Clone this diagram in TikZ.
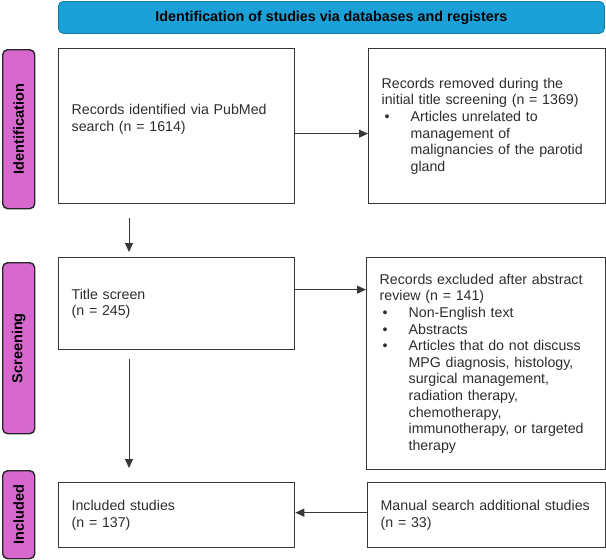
\documentclass[tikz,border=0pt]{standalone}
\usepackage{fontspec}
\setmainfont{Liberation Sans}
\usetikzlibrary{arrows.meta}

\definecolor{bannerblue}{RGB}{27,160,216}
\definecolor{phasepink}{RGB}{214,104,206}
\definecolor{linegray}{RGB}{55,55,55}
\definecolor{textgray}{RGB}{45,45,45}

\newcommand{\bul}{\makebox[29pt][l]{\hspace{3pt}•}}
\newcommand{\ind}{\hspace*{29pt}}

\begin{document}
\begin{tikzpicture}[
    x=1pt, y=-1pt,
    box/.style={draw=linegray, line width=1.3pt, text=textgray, align=left,
        inner xsep=13pt, inner ysep=0pt, anchor=north west,
        font=\fontsize{14.2}{16.6}\selectfont},
    phase/.style={draw=black!85, line width=1.4pt, fill=phasepink, rounded corners=5pt,
        anchor=north west, minimum width=32pt, inner sep=0pt,
        font=\fontsize{14.5}{16}\selectfont\bfseries},
    arr/.style={draw=linegray, line width=0.9pt, -{Triangle[length=9pt,width=8pt]}}
]
    \useasboundingbox (0,0) rectangle (606,560);
    % Banner on top
    \node[draw=bannerblue!75!black, line width=0.8pt, fill=bannerblue, rounded corners=5pt,
        anchor=north west, minimum width=546pt, minimum height=32pt,
        font=\fontsize{14.3}{16}\selectfont\bfseries] (head) at (58,1)
        {Identification of studies via databases and registers};
    % Phase labels on the left
    \foreach \name/\y/\h in {Identification/49/159, Screening/262/171, Included/470/88} {
        \node[phase, minimum height=\h pt] (P\name) at (2,\y) {\rotatebox{90}{\name}};
    }
    % Boxes
    \node[box, text width=210pt, minimum height=155pt] (rec) at (58,48)
        {Records identified via PubMed\\search (n = 1614)\\\mbox{}};
    \node[box, text width=211pt, minimum height=155pt] (removed) at (368,48)
        {Records removed during the\\
         initial title screening (n = 1369)\\
         \bul Articles unrelated to\\
         \ind management of\\
         \ind malignancies of the parotid\\
         \ind gland};
    \node[box, text width=210pt, minimum height=92pt] (title) at (58,257)
        {Title screen\\(n = 245)};
    \node[box, text width=213pt, minimum height=212pt] (excluded) at (366,257)
        {Records excluded after abstract\\
         review (n = 141)\\
         \bul Non-English text\\
         \bul Abstracts\\
         \bul Articles that do not discuss\\
         \ind MPG diagnosis, histology,\\
         \ind surgical management,\\
         \ind radiation therapy,\\
         \ind chemotherapy,\\
         \ind immunotherapy, or targeted\\
         \ind therapy};
    \node[box, text width=210pt, minimum height=65pt] (included) at (58,482)
        {Included studies\\(n = 137)};
    \node[box, text width=212pt, minimum height=65pt] (manual) at (367,482)
        {Manual search additional studies\\(n = 33)};
    % Connectors
    \draw[arr] ([yshift=-7.5pt]rec.east) -- ([yshift=-7.5pt]rec.east -| removed.west);
    \draw[arr] ([yshift=14pt]title.east) -- ([yshift=14pt]title.east -| excluded.west);
    \draw[arr] ([yshift=2.5pt]manual.west) -- ([yshift=2.5pt]manual.west -| included.east);
    \draw[arr, shorten <=14pt, shorten >=5pt] ([xshift=71pt]rec.south west) -- ([xshift=71pt]title.north west);
    \draw[arr, shorten <=9pt, shorten >=14pt] ([xshift=71pt]title.south west) -- ([xshift=71pt]included.north west);
\end{tikzpicture}
\end{document}
